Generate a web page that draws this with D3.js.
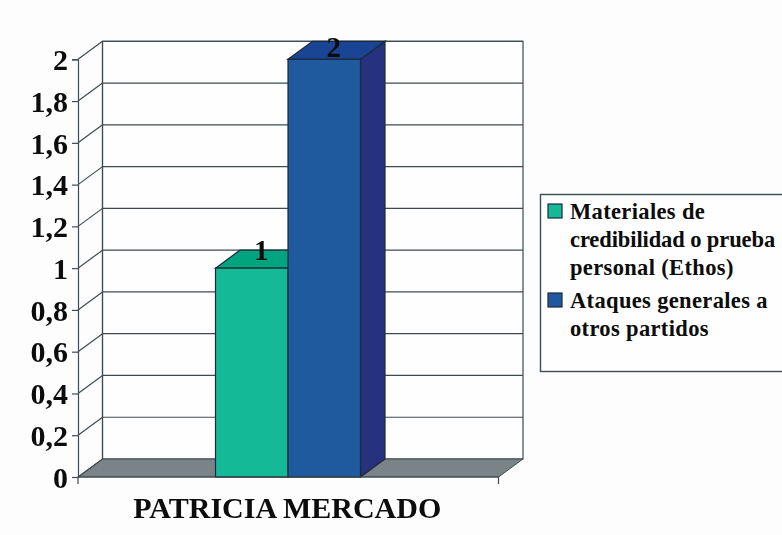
<!DOCTYPE html>
<html>
<head>
<meta charset="utf-8">
<script src="https://cdn.jsdelivr.net/npm/d3@7"></script>
<style>
html, body { margin: 0; padding: 0; background: #fdfdfd; overflow: hidden; }
svg { filter: blur(0.45px); }
text { font-family: "Liberation Serif", serif; font-weight: bold; fill: #0c0c0c; }
</style>
</head>
<body>
<div id="chart"></div>
<script>
const category = "PATRICIA MERCADO";
const seriesNames = ["Materiales de credibilidad o prueba personal (Ethos)", "Ataques generales a otros partidos"];
const seriesValues = [1, 2];
const tickValues = [0, 0.2, 0.4, 0.6, 0.8, 1, 1.2, 1.4, 1.6, 1.8, 2];
const legendLines = [["Materiales de", "credibilidad o prueba", "personal (Ethos)"], ["Ataques generales a", "otros partidos"]];
const frontColors = ["#14ba98", "#1f5a9f"];
const topColors = ["#00a580", "#1a4595"];
const sideColors = ["#009070", "#27327f"];

const lineColor = "#3d4c52";
const depthX = 24.5;
const depthY = 18;

const width = 782;
const height = 535;
const svg = d3.select("#chart").append("svg").attr("width", width).attr("height", height);

const yScale = d3.scaleLinear().domain([0, 2]).range([477, 59.3]);
const xOuter = d3.scaleBand().domain([category]).range([78, 498.5]);
const xInner = d3.scaleBand().domain(d3.range(seriesValues.length)).range([215.5, 360.5]);
const left = xOuter.range()[0];
const right = xOuter.range()[1];
const bottom = yScale(0);
const comma = d3.formatLocale({ decimal: ",", thousands: ".", grouping: [3], currency: ["", ""] }).format("~g");

// back wall
svg.append("rect")
    .attr("x", left + depthX)
    .attr("y", yScale(2) - depthY)
    .attr("width", right - left)
    .attr("height", bottom - yScale(2))
    .attr("fill", "#fefefe")
    .attr("stroke", lineColor)
    .attr("stroke-width", 1.2);

// floor
svg.append("polygon")
    .attr("points", [[left, bottom], [left + depthX, bottom - depthY], [right + depthX, bottom - depthY], [right, bottom]].join(" "))
    .attr("fill", "#7a8488")
    .attr("stroke", lineColor)
    .attr("stroke-width", 1);

// grid on wall and side
svg.selectAll(".grid").data(tickValues.slice(1)).join("line")
    .attr("class", "grid")
    .attr("x1", left + depthX).attr("x2", right + depthX)
    .attr("y1", d => yScale(d) - depthY).attr("y2", d => yScale(d) - depthY)
    .attr("stroke", lineColor).attr("stroke-width", 1.2);

svg.selectAll(".diag").data(tickValues).join("line")
    .attr("class", "diag")
    .attr("x1", left).attr("x2", left + depthX)
    .attr("y1", d => yScale(d)).attr("y2", d => yScale(d) - depthY)
    .attr("stroke", lineColor).attr("stroke-width", 1.2);

svg.append("line")
    .attr("x1", left + depthX).attr("x2", left + depthX)
    .attr("y1", yScale(2) - depthY).attr("y2", bottom - depthY)
    .attr("stroke", lineColor).attr("stroke-width", 1.2);

// bars
const labelLift = [8, 2];
seriesValues.forEach((v, i) => {
    const x0 = xInner(i);
    const x1 = x0 + xInner.bandwidth();
    const yTop = yScale(v);
    const g = svg.append("g").attr("stroke", "#1c2a3a").attr("stroke-width", 1.2);
    g.append("polygon")
        .attr("points", [[x1, yTop], [x1 + depthX, yTop - depthY], [x1 + depthX, bottom - depthY], [x1, bottom]].join(" "))
        .attr("fill", sideColors[i]);
    g.append("polygon")
        .attr("points", [[x0, yTop], [x0 + depthX, yTop - depthY], [x1 + depthX, yTop - depthY], [x1, yTop]].join(" "))
        .attr("fill", topColors[i]);
    g.append("rect")
        .attr("x", x0).attr("y", yTop)
        .attr("width", x1 - x0).attr("height", bottom - yTop)
        .attr("fill", frontColors[i]);
    svg.append("text")
        .attr("x", x0 + xInner.bandwidth() / 2 + 9.5)
        .attr("y", yTop - labelLift[i])
        .attr("text-anchor", "middle")
        .attr("font-size", 29)
        .text(comma(v));
});

// y axis
const yAxis = svg.append("g")
    .attr("transform", `translate(${left},0)`)
    .call(d3.axisLeft(yScale).tickValues(tickValues).tickFormat(comma).tickSize(6).tickPadding(4));
yAxis.selectAll("path, line").attr("stroke", lineColor).attr("stroke-width", 1.2);
yAxis.selectAll("text").attr("font-size", 30).attr("font-family", null).attr("dy", "0.34em");

// x axis
const xAxis = svg.append("g")
    .attr("transform", `translate(0,${bottom})`)
    .call(d3.axisBottom(xOuter).tickSize(0).tickPadding(19.5));
xAxis.select("path").attr("stroke", lineColor).attr("stroke-width", 1.2).attr("d", `M${left},7V0H${right}V7`);
xAxis.selectAll("text").attr("font-size", 30).attr("font-family", null).attr("dy", "0.71em").attr("dx", -1);

// legend
svg.append("rect")
    .attr("x", 540.5).attr("y", 194.5)
    .attr("width", 260).attr("height", 177)
    .attr("fill", "#fefefe")
    .attr("stroke", lineColor)
    .attr("stroke-width", 1.4);

const legendRows = [204, 293];
const lineStep = 28;
legendLines.forEach((lines, i) => {
    svg.append("rect")
        .attr("x", 548).attr("y", legendRows[i])
        .attr("width", 14).attr("height", 14)
        .attr("fill", frontColors[i])
        .attr("stroke", "#1c2a3a")
        .attr("stroke-width", 1.2);
    svg.append("g").selectAll("text").data(lines).join("text")
        .attr("x", 570)
        .attr("y", (d, j) => legendRows[i] + 15 + j * lineStep)
        .attr("font-size", 22.5)
        // the long line has to stay inside the window
        .attr("letter-spacing", d => d.length > 20 ? -0.1 : 0.35)
        .text(d => d);
});
</script>
</body>
</html>
